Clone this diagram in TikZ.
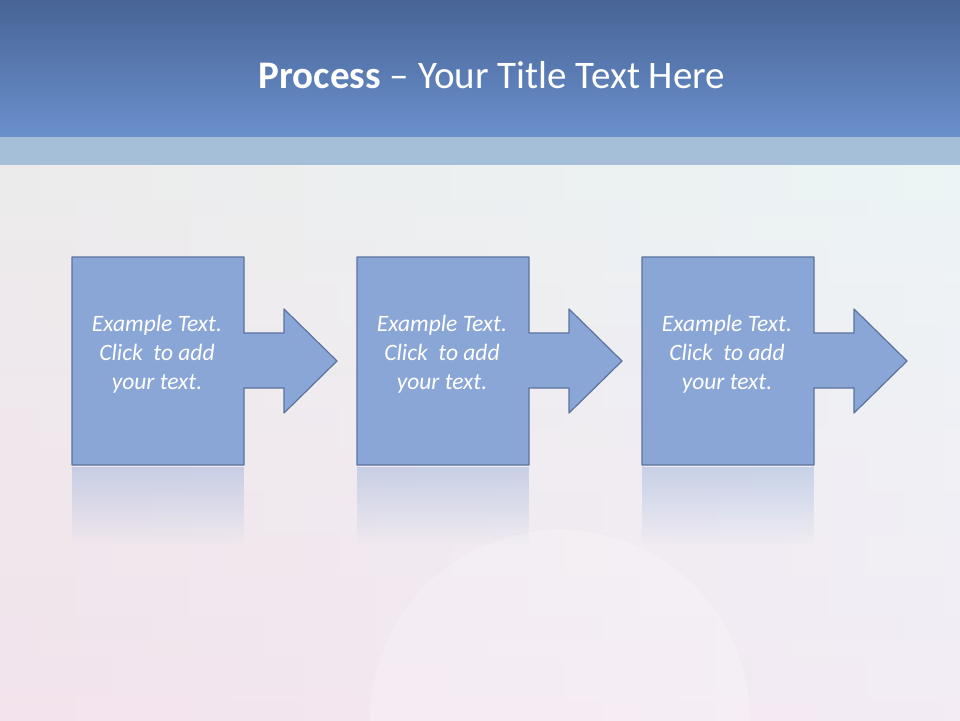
\documentclass[tikz,border=0pt]{standalone}
\usepackage{fontspec}
\setmainfont{Carlito}
\usetikzlibrary{fadings}
\definecolor{boxfill}{HTML}{8AA6D6}
\definecolor{boxline}{HTML}{5B739F}
\definecolor{topA}{HTML}{486496}
\definecolor{topB}{HTML}{6A90CC}
\definecolor{strip}{HTML}{A6BFD8}
\definecolor{bgtop}{HTML}{E2F0F0}
\definecolor{bgmid}{HTML}{EEE6F2}
\definecolor{bgbot}{HTML}{EDE2F0}
\tikzfading[name=fadedown, top color=transparent!60, bottom color=transparent!100]
\tikzset{
  procbox/.style={fill=boxfill, draw=boxline, line width=1.2pt, line join=round},
  refl/.style={fill=boxfill, path fading=fadedown},
  btext/.style={text=white, font=\itshape\fontsize{23.5}{29}\selectfont, align=center}
}
\begin{document}
\begin{tikzpicture}[x=1pt,y=-1pt]
\useasboundingbox (0,0) rectangle (960,720);
\shade[top color=bgtop, middle color=bgmid, bottom color=bgbot] (0,137) rectangle (960,720);
\shade[left color=pink!40, right color=white, opacity=0.35] (0,137) rectangle (960,720);
\fill[white, opacity=0.2] (560,720) circle (190);
\shade[top color=topA, bottom color=topB] (0,0) rectangle (960,137);
\fill[strip] (0,137) rectangle (960,165);
\node[text=white, font=\fontsize{39}{46}\selectfont] (title) at (492,75) {\textbf{Process} -- Your Title Text Here};
\foreach \i/\dx in {1/0,2/285,3/570}{
  \begin{scope}[xshift=\dx]
    \fill[refl] (72,467) rectangle (244,545);
    \draw[procbox] (72,257) -- (244,257) -- (244,333) -- (284,333) -- (284,309) -- (337,361) -- (284,413) -- (284,388) -- (244,388) -- (244,465) -- (72,465) -- cycle;
    \node[btext] (t\i) at (157,354) {Example Text.\\Click\ \ to add\\your text.};
  \end{scope}
}
\end{tikzpicture}
\end{document}
